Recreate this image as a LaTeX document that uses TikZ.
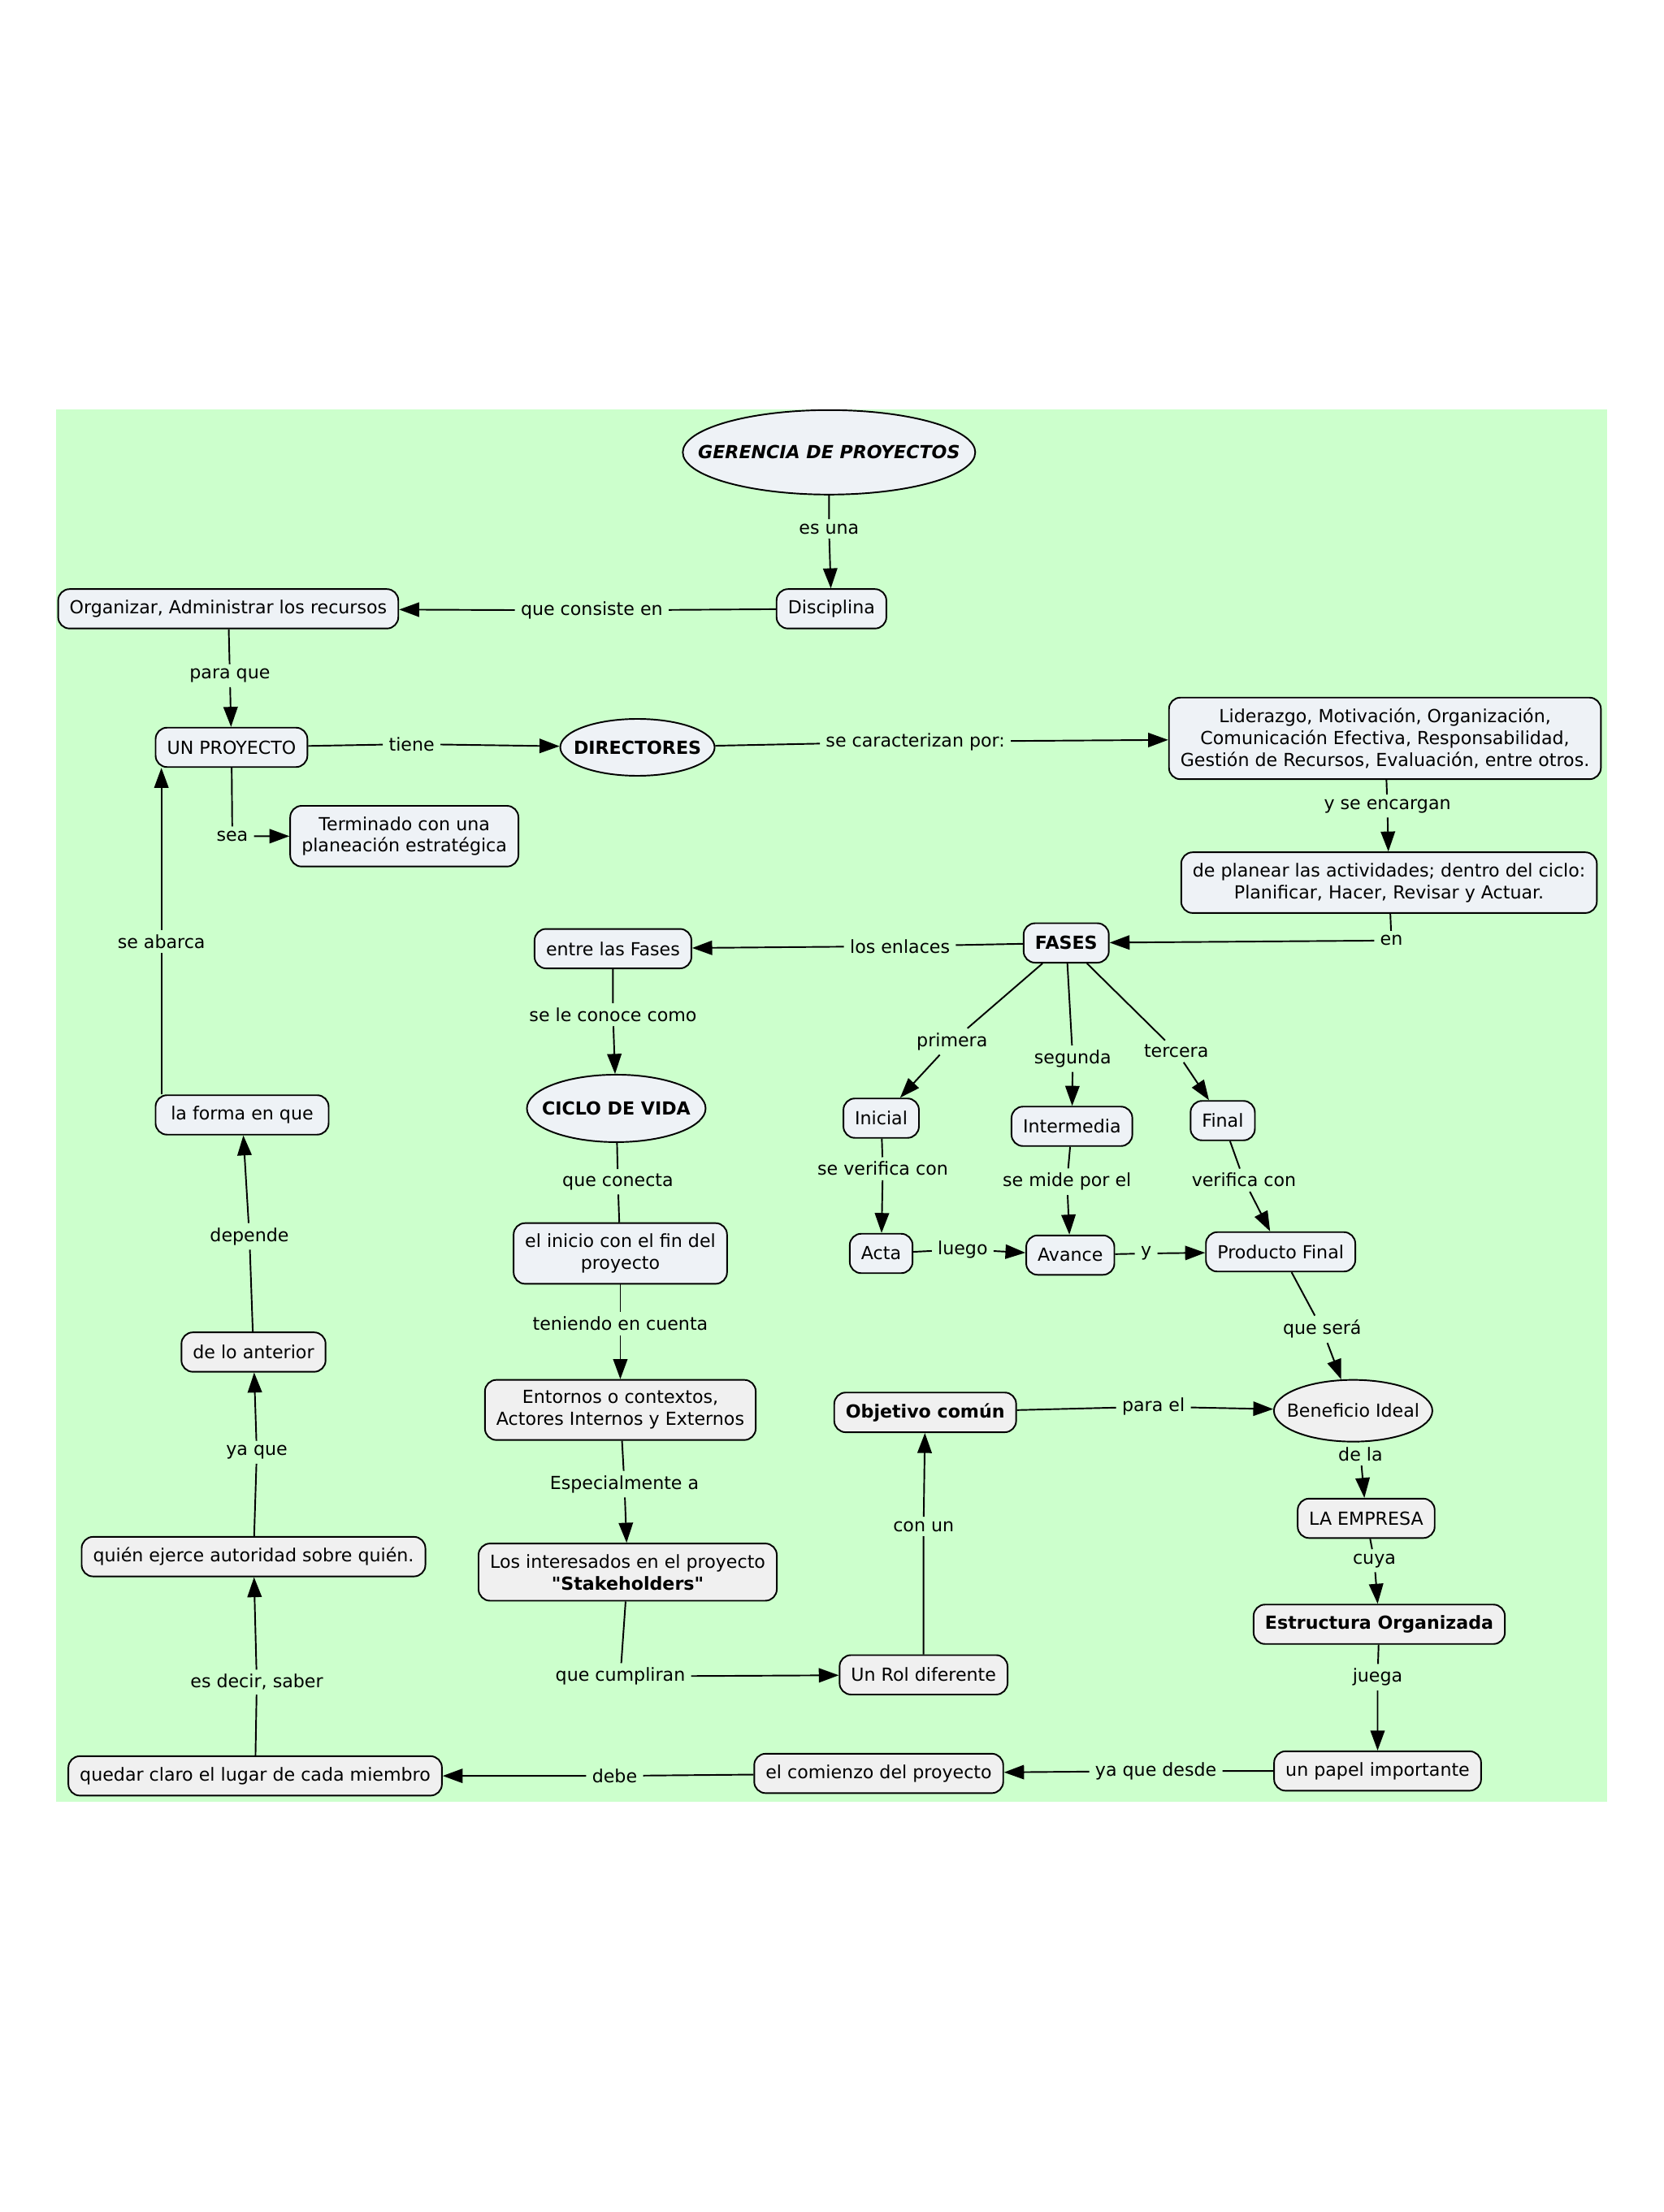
\documentclass[tikz,border=0pt]{standalone}
\usepackage{fontspec}
\setmainfont{DejaVu Sans}
\newfontfamily\mapface{DejaVu Sans}
\usetikzlibrary{shapes.geometric, arrows.meta}

\definecolor{mapgreen}{RGB}{204,255,204}
\definecolor{boxblue}{RGB}{238,242,246}
\definecolor{boxgray}{RGB}{240,240,240}

\newcommand{\mapfont}{\mapface\fontsize{12.6}{15.3}\selectfont}

\tikzset{
  concept/.style={draw, line width=1.1pt, rounded corners=8pt, fill=boxblue,
    font=\mapfont, align=center, inner xsep=8pt, inner ysep=7.5pt, minimum height=0.97cm},
  grayconcept/.style={concept, fill=boxgray},
  oval/.style={draw, line width=1.1pt, ellipse, fill=boxblue, font=\mapfont,
    align=center, inner xsep=-20pt, inner ysep=0pt},
  linkword/.style={font=\mapfont, inner xsep=4pt, inner ysep=3pt},
  arr/.style={line width=1.1pt, -{Triangle[length=14pt, width=10pt]}},
  seg/.style={line width=1.1pt},
}

\begin{document}
\begin{tikzpicture}[x=0.02007cm, y=-0.02007cm]

  % Page and map background
  \useasboundingbox (0cm,0cm) rectangle (40.96cm,-54.46cm);
  \fill[white] (0cm,0cm) rectangle (40.96cm,-54.46cm);
  \fill[mapgreen] (69,502) rectangle (1972,2211);

  % Top of the map
  \node[oval, minimum width=7.2cm, minimum height=2.08cm, font=\mapfont\bfseries\itshape]
    (gerencia) at (1017,555) {GERENCIA DE PROYECTOS};
  \node[concept] (disciplina) at (1020,747) {Disciplina};
  \node[concept] (organizar) at (280,747) {Organizar, Administrar los recursos};
  \node[concept] (proyecto) at (284,917) {UN PROYECTO};
  \node[concept] (terminado) at (496,1026) {Terminado con una\\ planeación estratégica};
  \node[oval, minimum width=3.8cm, minimum height=1.4cm, font=\mapfont\bfseries]
    (directores) at (782,917) {DIRECTORES};
  \node[concept] (liderazgo) at (1699,906) {Liderazgo, Motivación, Organización,\\
    Comunicación Efectiva, Responsabilidad,\\ Gestión de Recursos, Evaluación, entre otros.};
  \node[concept] (planear) at (1704,1083) {de planear las actividades; dentro del ciclo:\\
    Planificar, Hacer, Revisar y Actuar.};

  % Phases
  \node[concept, font=\mapfont\bfseries] (fases) at (1308,1157) {FASES};
  \node[concept] (entre) at (752,1164) {entre las Fases};
  \node[concept] (inicial) at (1081,1372) {Inicial};
  \node[concept] (intermedia) at (1315,1382) {Intermedia};
  \node[concept] (final) at (1500,1375) {Final};
  \node[concept] (acta) at (1081,1538) {Acta};
  \node[concept] (avance) at (1313,1540) {Avance};
  \node[concept] (producto) at (1571,1536) {Producto Final};

  % Life cycle column
  \node[oval, minimum width=4.4cm, minimum height=1.66cm, font=\mapfont\bfseries]
    (ciclo) at (756,1360) {CICLO DE VIDA};
  \node[concept] (inicio) at (761,1538) {el inicio con el fin del\\ proyecto};
  \node[grayconcept] (entornos) at (761,1730) {Entornos o contextos,\\ Actores Internos y Externos};
  \node[grayconcept] (interesados) at (770,1929) {Los interesados en el proyecto\\ \textbf{"Stakeholders"}};
  \node[grayconcept] (rol) at (1133,2055) {Un Rol diferente};
  \node[grayconcept, font=\mapfont\bfseries] (objetivo) at (1135,1733) {Objetivo común};

  % Right column
  \node[oval, minimum width=3.9cm, minimum height=1.52cm, fill=boxgray]
    (beneficio) at (1660,1731) {Beneficio Ideal};
  \node[grayconcept] (empresa) at (1676,1863) {LA EMPRESA};
  \node[grayconcept, font=\mapfont\bfseries] (estructura) at (1692,1993) {Estructura Organizada};
  \node[grayconcept] (papel) at (1690,2173) {un papel importante};
  \node[grayconcept] (comienzo) at (1078,2176) {el comienzo del proyecto};

  % Left column
  \node[grayconcept] (quedar) at (313,2179) {quedar claro el lugar de cada miembro};
  \node[grayconcept] (quien) at (311,1910) {quién ejerce autoridad sobre quién.};
  \node[grayconcept] (anterior) at (311,1659) {de lo anterior};
  \node[concept, minimum width=4.26cm] (forma) at (297,1368) {la forma en que};

  % Linking words
  \node[linkword] (esuna) at (1017,649) {es una};
  \node[linkword] (consiste) at (726,749) {que consiste en};
  \node[linkword] (paraque) at (282,829) {para que};
  \node[linkword] (tiene) at (505,913) {tiene};
  \node[linkword] (sea) at (285,1026) {sea};
  \node[linkword] (caracterizan) at (1123,910) {se caracterizan por:};
  \node[linkword] (encargan) at (1702,989) {y se encargan};
  \node[linkword] (en) at (1707,1154) {en};
  \node[linkword] (enlaces) at (1104,1161) {los enlaces};
  \node[linkword] (conoce) at (752,1245) {se le conoce como};
  \node[linkword] (conecta) at (758,1450) {que conecta};
  \node[linkword] (teniendo) at (761,1624) {teniendo en cuenta};
  \node[linkword] (especial) at (766,1821) {Especialmente a};
  \node[linkword] (cumpliran) at (761,2057) {que cumpliran};
  \node[linkword] (conun) at (1133,1873) {con un};
  \node[linkword] (parael) at (1415,1726) {para el};
  \node[linkword] (primera) at (1168,1278) {primera};
  \node[linkword] (segunda) at (1316,1299) {segunda};
  \node[linkword] (tercera) at (1443,1290) {tercera};
  \node[linkword] (verifica) at (1083,1434) {se verifica con};
  \node[linkword] (mide) at (1309,1450) {se mide por el};
  \node[linkword] (verificacon) at (1526,1448) {verifica con};
  \node[linkword] (luego) at (1181,1533) {luego};
  \node[linkword] (yy) at (1406,1538) {y};
  \node[linkword] (sera) at (1622,1631) {que será};
  \node[linkword] (dela) at (1669,1784) {de la};
  \node[linkword] (cuya) at (1686,1915) {cuya};
  \node[linkword] (juega) at (1690,2058) {juega};
  \node[linkword] (desde) at (1418,2173) {ya que desde};
  \node[linkword] (debe) at (754,2179) {debe};
  \node[linkword] (esdecir) at (315,2064) {es decir, saber};
  \node[linkword] (yaque) at (315,1782) {ya que};
  \node[linkword] (depende) at (306,1517) {depende};
  \node[linkword] (abarca) at (198,1155) {se abarca};

  % Connectors
  \draw[arr] (gerencia) -- (esuna) -- (disciplina);
  \draw[arr] (disciplina) -- (consiste) -- (organizar);
  \draw[arr] (organizar) -- (paraque) -- (proyecto);
  \draw[arr] (proyecto) -- (tiene) -- (directores);
  \draw[arr] (proyecto) -- (sea) -- (terminado);
  \draw[arr] (directores) -- (caracterizan) -- (liderazgo);
  \draw[arr] (liderazgo) -- (encargan) -- (planear);
  \draw[arr] (planear) -- (en) -- (fases);
  \draw[arr] (fases) -- (enlaces) -- (entre);
  \draw[arr] (entre) -- (conoce) -- (ciclo);
  \draw[seg] (ciclo) -- (conecta) -- (inicio);
  \draw[arr] (inicio) -- (teniendo) -- (entornos);
  \draw[arr] (entornos) -- (especial) -- (interesados);
  \draw[arr] (interesados) -- (cumpliran) -- (rol);
  \draw[arr] (rol) -- (conun) -- (objetivo);
  \draw[arr] (objetivo) -- (parael) -- (beneficio);

  \draw[arr] (fases) -- (primera) -- (inicial);
  \draw[arr] (fases) -- (segunda) -- (intermedia);
  \draw[arr] (fases) -- (tercera) -- (final);
  \draw[arr] (inicial) -- (verifica) -- (acta);
  \draw[arr] (intermedia) -- (mide) -- (avance);
  \draw[arr] (final) -- (verificacon) -- (producto);
  \draw[arr] (acta) -- (luego) -- (avance);
  \draw[arr] (avance) -- (yy) -- (producto);
  \draw[arr] (producto) -- (sera) -- (beneficio);

  \draw[arr] (beneficio) -- (dela) -- (empresa);
  \draw[arr] (empresa) -- (cuya) -- (estructura);
  \draw[arr] (estructura) -- (juega) -- (papel);
  \draw[arr] (papel) -- (desde) -- (comienzo);
  \draw[arr] (comienzo) -- (debe) -- (quedar);
  \draw[arr] (quedar) -- (esdecir) -- (quien);
  \draw[arr] (quien) -- (yaque) -- (anterior);
  \draw[arr] (anterior) -- (depende) -- (forma);
  \draw[arr] (forma.north -| abarca) -- (abarca) -- (abarca |- proyecto.south);

\end{tikzpicture}
\end{document}
